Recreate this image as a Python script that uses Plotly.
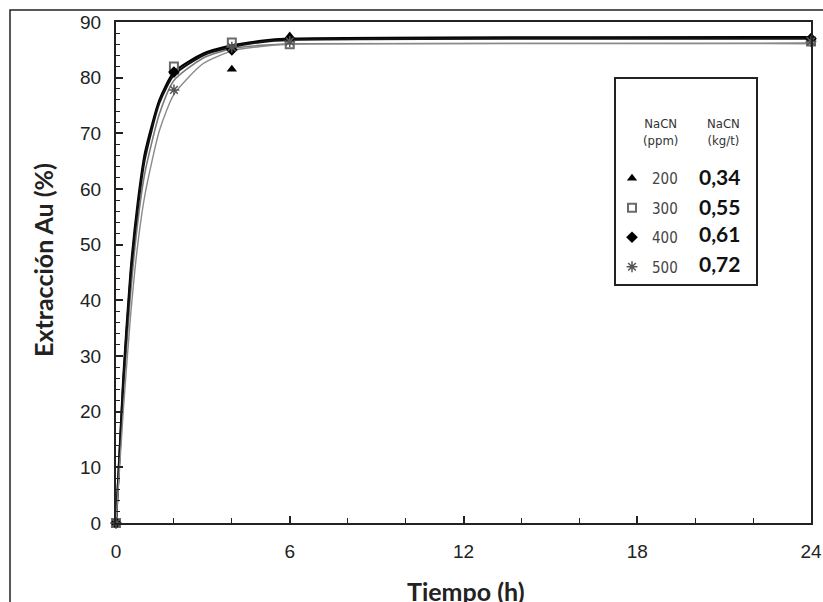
import plotly.graph_objects as go

# ---- data ----
t_h = [0, 2, 4, 6, 24]
ext_200 = [0, 81, 81.5, 87.5, 87]
ext_300 = [0, 82, 86.3, 86, 86.5]
ext_400 = [0, 81, 85, 87, 87]
ext_500 = [0, 77.8, 85.5, 86.5, 86.5]

# fitted curves
t_fit = [0, 0.25, 0.5, 0.75, 1, 1.5, 2, 3, 4, 5, 6, 24]
fit_200 = [0, 26, 45, 57.5, 66.5, 76, 81, 84.3, 85.8, 86.6, 87.0, 87.3]
fit_400 = [0, 25, 44, 56.5, 65.5, 75.5, 80.5, 84.0, 85.5, 86.4, 86.8, 87.0]
fit_300 = [0, 23, 41, 54, 63, 73.5, 79.5, 83.5, 85.2, 85.8, 86.1, 86.2]
fit_500 = [0, 20, 37, 50, 59, 70.5, 77, 82.5, 84.8, 85.6, 86.0, 86.1]

ppm_labels = ["200", "300", "400", "500"]
kgt_labels = ["0,34", "0,55", "0,61", "0,72"]

x_ticks = [0, 6, 12, 18, 24]
y_ticks = [0, 10, 20, 30, 40, 50, 60, 70, 80, 90]

TICK_FONT = "Liberation Sans Narrow, Arial Narrow, Liberation Sans, sans-serif"
TITLE_FONT = "Lato, Open Sans, sans-serif"

series = [
    (ppm_labels[0], ext_200, fit_200, "#000000", 2.2, dict(symbol="triangle-up", size=9, color="#000000")),
    (ppm_labels[1], ext_300, fit_300, "#7a7a7a", 1.6, dict(symbol="square-open", size=8, color="#6a6a6a", line=dict(width=2))),
    (ppm_labels[2], ext_400, fit_400, "#111111", 2.2, dict(symbol="diamond", size=9, color="#000000")),
    (ppm_labels[3], ext_500, fit_500, "#8a8a8a", 1.4, dict(symbol="asterisk-open", size=9, color="#555555", line=dict(width=1.5, color="#555555"))),
]

fig = go.Figure()

for i, (name, ys, fit, col, lw, mk) in enumerate(series):
    fig.add_trace(go.Scatter(
        x=t_fit, y=fit, mode="lines", line=dict(color=col, width=lw, shape="spline", smoothing=0.6),
        showlegend=False, hoverinfo="skip"))

for i, (name, ys, fit, col, lw, mk) in enumerate(series):
    fig.add_trace(go.Scatter(
        x=t_h, y=ys, mode="markers", marker=mk, name=name,
        legendgroup="g%d" % i, showlegend=True, cliponaxis=False))

FIG_W, FIG_H = 823, 602
# plot area in screen pixels
L, R, T, B = 116, 811, 22, 523
W, H = R - L, B - T


def px(x):
    return (x - L) / W


def py(y):
    return (B - y) / H


# legend box
fig.add_shape(type="rect", xref="paper", yref="paper", x0=px(615), x1=px(757), y0=py(285), y1=py(78),
              line=dict(color="#222", width=2), fillcolor="white", layer="above")

# legend header
for cx, txt in [(660, "NaCN<br>(ppm)"), (723, "NaCN<br>(kg/t)")]:
    fig.add_annotation(xref="paper", yref="paper", x=px(cx), y=py(132), xanchor="center", yanchor="middle",
                       text=txt, showarrow=False,
                       font=dict(family="DejaVu Sans Condensed, DejaVu Sans", size=13, color="#333"), align="center")

row_y = [177, 206, 234, 263]
for lab, yy in zip(kgt_labels, row_y):
    fig.add_annotation(xref="paper", yref="paper", x=px(719), y=py(yy), xanchor="center", yanchor="middle",
                       text="<b>%s</b>" % lab, showarrow=False,
                       font=dict(family="Lato, Open Sans, sans-serif", size=21, color="#111"))

# axis titles
fig.add_annotation(xref="paper", yref="paper", x=px(43), y=py(260), xanchor="center", yanchor="middle",
                   text="<b>Extracción Au (%)</b>", textangle=-90, showarrow=False,
                   font=dict(family=TITLE_FONT, size=25, color="#222"))
fig.add_annotation(xref="paper", yref="paper", x=px(466), y=py(591), xanchor="center", yanchor="middle",
                   text="<b>Tiempo (h)</b>", showarrow=False,
                   font=dict(family=TITLE_FONT, size=25, color="#222"))

# outer frame
fig.add_shape(type="rect", xref="paper", yref="paper",
              x0=px(10), x1=px(860), y0=py(660), y1=py(10),
              line=dict(color="#222", width=1.5), fillcolor="rgba(0,0,0,0)")

fig.update_layout(
    width=FIG_W, height=FIG_H,
    margin=dict(l=L, r=FIG_W - R, t=T, b=FIG_H - B, autoexpand=False),
    paper_bgcolor="white", plot_bgcolor="white",
    showlegend=True,
    legend=dict(x=px(612), y=py(162), xanchor="left", yanchor="top",
                bgcolor="rgba(0,0,0,0)", borderwidth=0, tracegroupgap=7,
                font=dict(family="DejaVu Sans Condensed, DejaVu Sans", size=15, color="#444"), itemclick=False),
)

fig.update_xaxes(range=[0, 24], tickvals=x_ticks, ticktext=[str(v) for v in x_ticks],
                 ticks="inside", ticklen=7, tickwidth=1.5, tickcolor="#222",
                 minor=dict(dtick=2, ticks="inside", ticklen=5, tickcolor="#222", tickwidth=1),
                 showline=True, linecolor="#222", linewidth=2, mirror=True,
                 showgrid=False, zeroline=False, automargin=False,
                 tickfont=dict(family=TICK_FONT, size=19, color="#222"), ticklabelstandoff=10)
fig.update_yaxes(range=[0, 90], tickvals=y_ticks,
                 ticks="inside", ticklen=7, tickwidth=1.5, tickcolor="#222",
                 minor=dict(dtick=2, ticks="inside", ticklen=4, tickcolor="#222", tickwidth=1),
                 showline=True, linecolor="#222", linewidth=2, mirror=True,
                 showgrid=False, zeroline=False, automargin=False,
                 tickfont=dict(family=TICK_FONT, size=19, color="#222"), ticklabelstandoff=9)

fig.write_html("out.html", config={"displayModeBar": False},
               post_script="document.body.style.margin='0';document.body.style.overflow='hidden';"
                           "document.documentElement.style.overflow='hidden';")
